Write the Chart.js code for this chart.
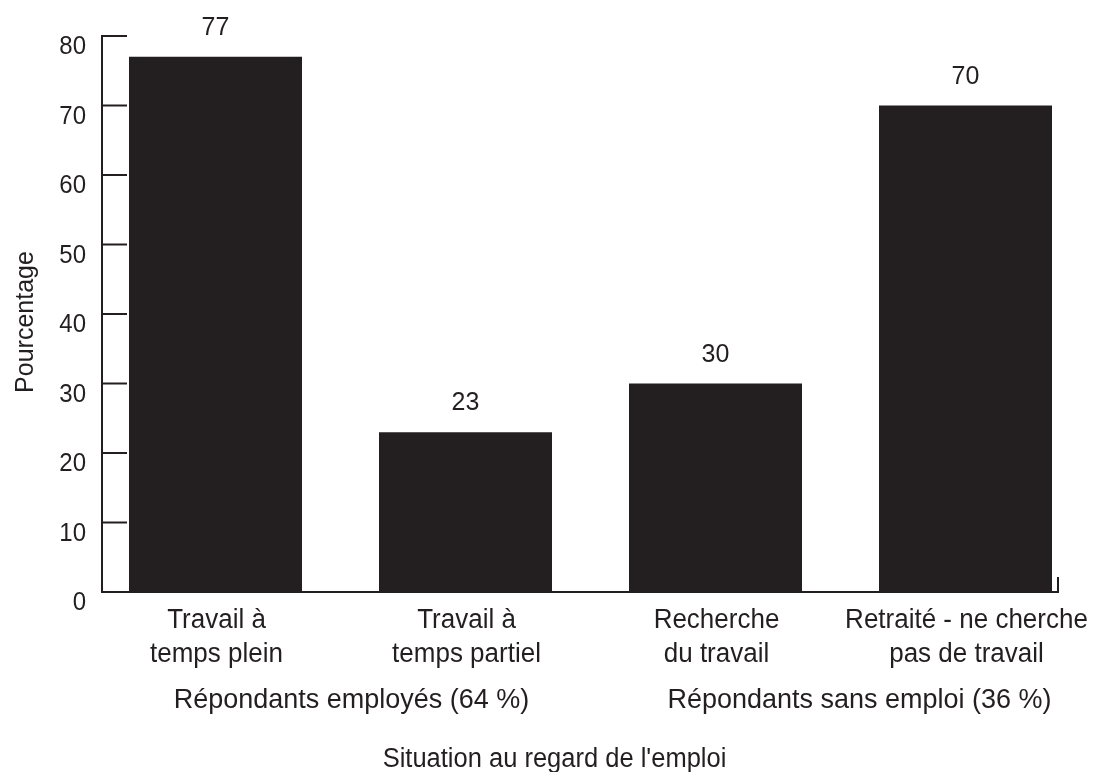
<!DOCTYPE html>
<html lang="fr">
<head>
<meta charset="utf-8">
<script src="https://cdn.jsdelivr.net/npm/chart.js@4/dist/chart.umd.min.js"></script>
<style>
  html, body { margin:0; padding:0; background:#fff; }
  #wrap { width:1098px; height:772px; }
</style>
</head>
<body>
<div id="wrap"><canvas id="chart-emploi" width="1098" height="772"></canvas></div>
<script>
// ─── DATA ─────────────────────────────────────────────────────────────────────
const categories = [
  ['Travail à', 'temps plein'],
  ['Travail à', 'temps partiel'],
  ['Recherche', 'du travail'],
  ['Retraité - ne cherche', 'pas de travail']
];
const pourcentages = [77, 23, 30, 70];
const yTicks = [0, 10, 20, 30, 40, 50, 60, 70, 80];
const groupes = ['Répondants employés (64 %)', 'Répondants sans emploi (36 %)'];
const titreX = "Situation au regard de l'emploi";
const titreY = 'Pourcentage';

const INK = '#231f20';
const FAMILY = '"Liberation Sans", Arial, sans-serif';
const STRETCH = 1.05;   // glyphs are a touch taller than wide

// text drawn with a slight vertical stretch, (x, y) is the baseline anchor
function label(ctx, str, x, y, px, align) {
  ctx.save();
  ctx.font = `${px}px ${FAMILY}`;
  ctx.textAlign = align || 'center';
  ctx.textBaseline = 'alphabetic';
  ctx.translate(x, y);
  ctx.scale(1, STRETCH);
  ctx.fillText(str, 0, 0);
  ctx.restore();
}

// ─── AXES + LABELS ────────────────────────────────────────────────────────────
const axesPlugin = {
  id: 'axesPlugin',
  afterDatasetsDraw(chart) {
    const { ctx, scales: { x, y } } = chart;
    const axisX = 102, axisEnd = 1058;
    const y0 = y.getPixelForValue(0);
    ctx.save();
    ctx.strokeStyle = INK;
    ctx.lineWidth = 2;
    ctx.lineCap = 'square';

    // y axis + inward ticks, x axis + closing tick
    ctx.beginPath();
    ctx.moveTo(axisX, y.getPixelForValue(80));
    ctx.lineTo(axisX, y0);
    ctx.lineTo(axisEnd, y0);
    ctx.lineTo(axisEnd, y0 - 14);
    yTicks.forEach(v => {
      const py = y.getPixelForValue(v);
      if (v > 0) { ctx.moveTo(axisX, py); ctx.lineTo(axisX + 24, py); }
    });
    ctx.stroke();
    ctx.fillStyle = INK;

    // y tick labels (sit a little below their tick)
    yTicks.forEach(v => label(ctx, String(v), 86, y.getPixelForValue(v) + 18, 24, 'right'));

    // value labels over bars
    const bars = chart.getDatasetMeta(0).data;
    bars.forEach((bar, i) => label(ctx, String(pourcentages[i]), bar.x, bar.y - 22, 25));

    // category labels
    bars.forEach((bar, i) => {
      categories[i].forEach((line, j) => label(ctx, line, bar.x + 1, 628 + j * 34, 26));
    });

    // group labels
    const mid1 = (x.getPixelForValue(0) + x.getPixelForValue(1)) / 2;
    const mid2 = (x.getPixelForValue(2) + x.getPixelForValue(3)) / 2;
    label(ctx, groupes[0], mid1 + 11, 708, 27);
    label(ctx, groupes[1], mid2 + 19, 708, 27);

    // axis titles
    label(ctx, titreX, (x.left + x.right) / 2 - 36, 767, 25.5);
    ctx.translate(33, (y.top + y.bottom) / 2 + 8);
    ctx.rotate(-Math.PI / 2);
    ctx.scale(1, STRETCH);
    ctx.font = `25px ${FAMILY}`;
    ctx.textAlign = 'center';
    ctx.fillText(titreY, 0, 0);
    ctx.restore();
  }
};

new Chart(document.getElementById('chart-emploi').getContext('2d'), {
  type: 'bar',
  data: {
    labels: categories,
    datasets: [{ data: pourcentages, backgroundColor: INK, borderWidth: 0, barPercentage: 0.692, categoryPercentage: 1 }]
  },
  options: {
    responsive: false, animation: false,
    layout: { padding: { left: 90.5, right: 7.5, top: 36, bottom: 180 } },
    plugins: { legend: { display: false }, tooltip: { enabled: false } },
    scales: {
      x: { display: false, offset: true },
      y: { display: false, min: 0, max: 80 }
    }
  },
  plugins: [axesPlugin]
});
</script>
</body>
</html>
